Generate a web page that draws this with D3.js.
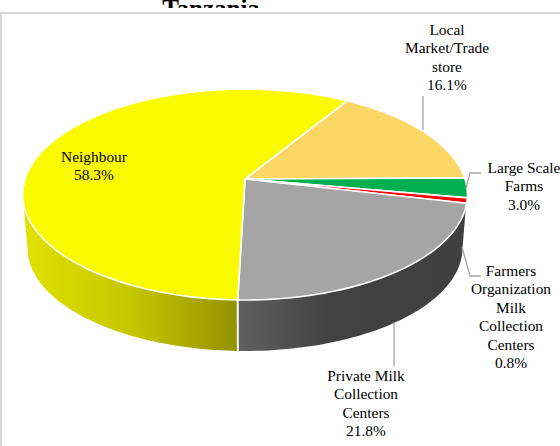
<!DOCTYPE html>
<html><head><meta charset="utf-8">
<script src="https://cdn.jsdelivr.net/npm/d3@7"></script>
<style>html,body{margin:0;padding:0;background:#fff}svg{display:block}text{font-family:"Liberation Serif",serif;fill:#000}</style>
</head><body><div id="c"></div>
<script>
const categories = ["Local Market/Trade store","Large Scale Farms","Farmers Organization Milk Collection Centers","Private Milk Collection Centers","Neighbour"];
const shares = [16.1,3.0,0.8,21.8,58.3];
const colors = ["#FDD766","#00B050","#FF0000","#A5A5A5","#FAFA00"];
const labelLines = [["Local","Market/Trade","store","16.1%"],["Large Scale","Farms","3.0%"],["Farmers","Organization","Milk","Collection","Centers","0.8%"],["Private Milk","Collection","Centers","21.8%"],["Neighbour","58.3%"]];
const labelPos = [[447,35],[524,173],[511,276],[366,381],[94,162]];
const leaders = [[[423,130],[423,96]],[[466,188],[470,173],[481,173]],[[462,247],[470,276],[481,276]],[[394,322],[394,366]]];

const W=560,H=446,cx=245,cy=179,Rx=220,Ry=103.2,k=0.147;
const svg=d3.select("#c").append("svg").attr("width",W).attr("height",H);
const rad=d=>d*Math.PI/180;
const pie=d3.pie().sort(null).startAngle(rad(31.5)).endAngle(rad(391.5)).value(d=>d);
const arcs=pie(shares);
// perspective projection of a rim point
const P=(a,s=1,y0=cy)=>{const u=Math.sin(a),v=-Math.cos(a),d=1-k*v;return [cx+s*Rx*u/d,y0+s*Ry*v/d];};
const S2=0.978,CY2=351-121*S2;
const steps=(a,b)=>d3.range(0,61).map(i=>a+(b-a)*i/60);
const line=d3.line();

// gradients
const defs=svg.append("defs");
function grad(id,x1,x2,stops){const g=defs.append("linearGradient").attr("id",id).attr("gradientUnits","userSpaceOnUse").attr("x1",x1).attr("x2",x2).attr("y1",0).attr("y2",0);
 stops.forEach(s=>g.append("stop").attr("offset",s[0]).attr("stop-color",s[1]));}
grad("wy",27,238,[[0,"#E0E000"],[0.5,"#C6C600"],[1,"#929200"]]);
grad("wd",238,465,[[0,"#606060"],[0.4,"#424242"],[1,"#404040"]]);

// frame & clipped title
svg.append("text").attr("x",211).attr("y",17).attr("text-anchor","middle").attr("font-weight","bold").attr("font-size",25).text("Tanzania");
svg.append("rect").attr("x",0).attr("y",8).attr("width",W).attr("height",H).attr("fill","#fff");
svg.append("path").attr("d","M1,446V13H560").attr("fill","none").attr("stroke","#D9D9D9").attr("stroke-width",2);

// walls
const gy=arcs[4],gd=arcs[3];
const wallPath=(a,b,a2,b2)=>{const t=steps(a,b).map(x=>P(x)),l=steps(a2,b2).map(x=>P(x,S2,CY2)).reverse();return line(t.concat(l))+"Z";};
const seam=gd.endAngle;
svg.append("path").attr("d",wallPath(seam,rad(256),seam,rad(261.5))).attr("fill","url(#wy)");
svg.append("path").attr("d",wallPath(rad(105),seam,rad(98.5),seam)).attr("fill","url(#wd)");
svg.append("path").attr("d",line([P(seam),P(seam,S2,CY2)])).attr("stroke","#fff").attr("stroke-width",2).attr("fill","none");

// top face
svg.selectAll("path.s").data(arcs).join("path").attr("class","s")
 .attr("d",d=>line([[cx,cy]].concat(steps(d.startAngle,d.endAngle).map(a=>P(a))))+"Z")
 .attr("fill",(d,i)=>colors[i]).attr("stroke","#fff").attr("stroke-width",1.6).attr("stroke-linejoin","round");

// leaders
leaders.forEach(p=>svg.append("path").attr("d",line(p)).attr("fill","none").attr("stroke","#A6A6A6").attr("stroke-width",1.3));

// labels
labelLines.forEach((ls,i)=>{const t=svg.append("text").attr("text-anchor","middle").attr("font-size",15.4);
 ls.forEach((s,j)=>t.append("tspan").attr("x",labelPos[i][0]).attr("y",labelPos[i][1]+j*18.4).text(s));});
</script></body></html>
